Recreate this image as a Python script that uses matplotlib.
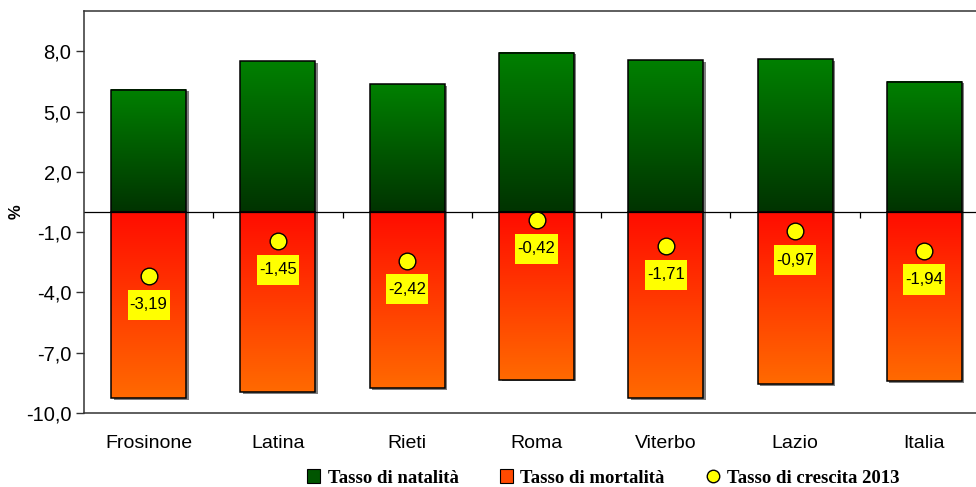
import numpy as np
import matplotlib
matplotlib.use("Agg")
import matplotlib.pyplot as plt
from matplotlib.patches import Rectangle
from matplotlib.lines import Line2D
from matplotlib import transforms
from matplotlib.ticker import FuncFormatter

# tassi per 1000 abitanti, anno 2013
province = ["Frosinone", "Latina", "Rieti", "Roma", "Viterbo", "Lazio", "Italia"]
natalita = [6.08, 7.51, 6.35, 7.92, 7.56, 7.61, 6.48]
mortalita = [-9.27, -8.96, -8.77, -8.34, -9.27, -8.58, -8.42]
crescita = [-3.19, -1.45, -2.42, -0.42, -1.71, -0.97, -1.94]
yticks = [8, 5, 2, -1, -4, -7, -10]

plt.rcParams['font.family'] = ['Liberation Sans', 'DejaVu Sans']

fig = plt.figure(figsize=(9.76, 4.87), dpi=100)
ax = fig.add_axes([84/976, 74/487, 905/976, 402/487])

width = 0.58
x = np.arange(len(province))


def gradient_bar(xc, y0, y1, c0, c1):
    # c0 at y0 (zero line), c1 at y1 (bar end)
    n = 256
    t = np.linspace(0, 1, n)[:, None]
    c0 = np.array(matplotlib.colors.to_rgb(c0))
    c1 = np.array(matplotlib.colors.to_rgb(c1))
    img = (c0 + (c1 - c0) * t)[:, None, :]
    lo, hi = min(y0, y1), max(y0, y1)
    if y1 < y0:
        img = img[::-1]
    shadow_tr = transforms.offset_copy(ax.transData, fig=fig, x=2.5, y=-1.5, units='dots')
    ax.add_patch(Rectangle((xc - width/2, lo), width, hi - lo, facecolor='#7f7f7f',
                           edgecolor='none', transform=shadow_tr, zorder=1.5))
    ax.imshow(img, extent=[xc - width/2, xc + width/2, lo, hi], origin='lower',
              aspect='auto', interpolation='bilinear', zorder=2)
    ax.add_patch(Rectangle((xc - width/2, lo), width, hi - lo, fill=False,
                           edgecolor='black', linewidth=1.1, zorder=3))


for i in range(len(province)):
    gradient_bar(x[i], 0, natalita[i], '#003300', '#008000')
    gradient_bar(x[i], 0, mortalita[i], '#ff0c00', '#ff6a00')

# linea dello zero con tacche tra le categorie
ax.axhline(0, color='black', linewidth=0.9, zorder=2.5)
ax.vlines(x[:-1] + 0.5, -0.32, 0, color='black', linewidth=0.9, zorder=2.5)

ax.plot(x, crescita, linestyle='none', marker='o', markersize=12,
        markerfacecolor='#ffff00', markeredgecolor='black', markeredgewidth=1.0, zorder=5)

# etichette gialle sotto ai punti
box_w, box_h, box_gap = 0.325, 1.5, 1.42
for xi, v in zip(x, crescita):
    ax.add_patch(Rectangle((xi - box_w/2, v - box_gap - box_h/2), box_w, box_h,
                           facecolor='#ffff00', edgecolor='none', zorder=6))
    ax.text(xi, v - box_gap, f"{v:.2f}".replace('.', ','), ha='center', va='center',
            fontsize=12, zorder=7)

ax.set_xlim(-0.5, len(province) - 0.5)
ax.set_ylim(-10, 10)
ax.set_yticks(yticks)
ax.yaxis.set_major_formatter(FuncFormatter(lambda v, p: f"{v:.1f}".replace('.', ',')))
ax.tick_params(axis='y', direction='out', length=6, width=1, color='#333333',
               labelsize=14.5, pad=3)
ax.set_xticks(x)
ax.set_xticklabels(province)
ax.tick_params(axis='x', length=0, labelsize=14, pad=16)
for s in ax.spines.values():
    s.set_color('#333333')
    s.set_linewidth(1.1)

ax.set_ylabel('%', fontsize=12, fontweight='bold')
ax.yaxis.set_label_coords(-60/905, 0.5)

handles = [
    Rectangle((0, 0), 1, 1, facecolor='#005500', edgecolor='black', linewidth=0.8),
    Rectangle((0, 0), 1, 1, facecolor='#ff4a00', edgecolor='black', linewidth=0.8),
    Line2D([], [], linestyle='none', marker='o', markersize=9,
           markerfacecolor='#ffff00', markeredgecolor='black'),
]
labels = ["Tasso di natalità", "Tasso di mortalità", "Tasso di crescita 2013"]
fig.legend(handles, labels, loc='center', bbox_to_anchor=(603/976, 1 - 478/487), ncol=3,
           frameon=False, handlelength=0.7, handleheight=0.7, handletextpad=0.4,
           columnspacing=2.2, prop={'family': 'Liberation Serif', 'weight': 'bold', 'size': 13.5})

fig.savefig('out.png', dpi=100)
